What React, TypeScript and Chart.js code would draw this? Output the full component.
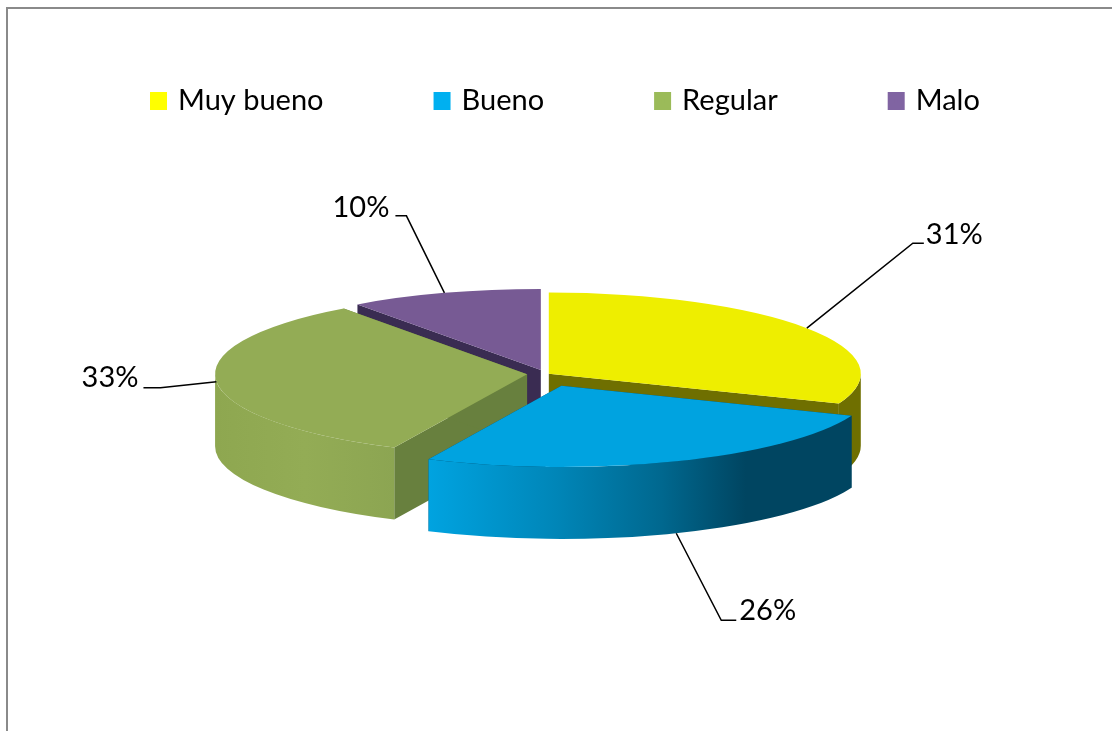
import React, { useEffect, useRef } from "react";
import { Chart, registerables } from "chart.js";

Chart.register(...registerables);

const categories = ["Muy bueno", "Bueno", "Regular", "Malo"];
const values = [31, 26, 33, 10];
const percentLabels = ["31%", "26%", "33%", "10%"];
const legendColors = ["#FFFF00", "#00B0F0", "#9BBB59", "#8064A2"];
const topColors = ["#EEEE00", "#00A3E0", "#93AC55", "#775A94"];
const faceColors = ["#6F6F00", "#004561", "#68803E", "#3A2C52"];
const explode = [7, 50, 16, 7];
const nudgeY = [1, 0, 0, -2];
const paintOrder = [0, 3, 2, 1];
const squash = 0.26;
const depth = 72;
const wallStops: [number, string][][] = [
  [[0, "#6F6F00"], [1, "#6F6F00"]],
  [[0, "#00A3E0"], [0.3, "#0086B8"], [0.55, "#00688F"], [0.75, "#004561"], [1, "#004561"]],
  [[0, "#8EA750"], [0.5, "#93AC55"], [1, "#8CA552"]],
  [[0, "#3A2C52"], [1, "#3A2C52"]],
];
// leader: elbow offset from the slice's rim point, tail length, text offset from the tail end
const elbowDx = [106, 45, -56, -38];
const elbowDy = [-85, 87, 6, -77];
const tailDx = [11, 15, -17, -11];
const textDx = [2, 3, -5, -6];
const textDy = [-8, -10, -10, -8];
const rimUsesDepth = [false, true, false, false];

const pie3d = {
  id: "pie3d",
  afterLayout(chart: any) {
    const legend = chart.legend;
    legend.left = 40;
    legend.right = chart.width;
    legend.top = -27;
  },
  beforeDatasetDraw(chart: any, args: any) {
    const ctx = chart.ctx;
    const arcs = args.meta.data;
    const geom = (arc: any, i: number) => {
      const mid = (arc.startAngle + arc.endAngle) / 2;
      return {
        X: arc.x + Math.cos(mid) * explode[i],
        Y: arc.y + Math.sin(mid) * explode[i] * squash + nudgeY[i],
        R: arc.outerRadius,
        mid,
      };
    };
    paintOrder.forEach((i) => {
      const arc = arcs[i];
      const { X, Y, R } = geom(arc, i);
      const k = squash;
      // radial cut faces
      [arc.startAngle, arc.endAngle].forEach((a: number) => {
        const ex = X + Math.cos(a) * R;
        const ey = Y + Math.sin(a) * R * k;
        ctx.beginPath();
        ctx.moveTo(X, Y);
        ctx.lineTo(ex, ey);
        ctx.lineTo(ex, ey + depth);
        ctx.lineTo(X, Y + depth);
        ctx.closePath();
        ctx.fillStyle = faceColors[i];
        ctx.fill();
      });
      // curved outer wall
      const a0 = Math.max(arc.startAngle, 0);
      const a1 = Math.min(arc.endAngle, Math.PI);
      if (a1 > a0) {
        const x0 = X + Math.cos(a1) * R;
        const x1 = X + Math.cos(a0) * R;
        const grad = ctx.createLinearGradient(x0, 0, x1, 0);
        wallStops[i].forEach(([p, c]) => grad.addColorStop(p, c));
        ctx.beginPath();
        ctx.ellipse(X, Y, R, R * k, 0, a0, a1);
        ctx.ellipse(X, Y + depth, R, R * k, 0, a1, a0, true);
        ctx.closePath();
        ctx.fillStyle = grad;
        ctx.fill();
      }
      // top surface: the library's own arc, flattened
      ctx.save();
      ctx.translate(X, Y);
      ctx.scale(1, k);
      ctx.translate(-arc.x, -arc.y);
      arc.draw(ctx);
      ctx.restore();
    });
    // leaders and percentages
    ctx.save();
    ctx.strokeStyle = "#000000";
    ctx.lineWidth = 1.5;
    ctx.fillStyle = "#000000";
    ctx.font = "29px Lato";
    ctx.textBaseline = "middle";
    arcs.forEach((arc: any, i: number) => {
      const { X, Y, R, mid } = geom(arc, i);
      const rx = X + Math.cos(mid) * R;
      const ry = Y + Math.sin(mid) * R * squash + (rimUsesDepth[i] ? depth : 0);
      const ex = rx + elbowDx[i];
      const ey = ry + elbowDy[i];
      const tx = ex + tailDx[i];
      ctx.beginPath();
      ctx.moveTo(rx, ry);
      ctx.lineTo(ex, ey);
      ctx.lineTo(tx, ey);
      ctx.stroke();
      ctx.textAlign = tailDx[i] > 0 ? "left" : "right";
      ctx.fillText(percentLabels[i], tx + textDx[i], ey + textDy[i]);
    });
    ctx.restore();
    return false;
  },
};

export default function App() {
  const ref = useRef<HTMLCanvasElement | null>(null);
  useEffect(() => {
    if (!ref.current) return;
    const chart = new Chart(ref.current, {
      type: "pie",
      data: {
        labels: categories,
        datasets: [
          {
            data: values,
            backgroundColor: topColors,
            borderWidth: 0,
            radius: 312,
            clip: false,
          } as any,
        ],
      },
      plugins: [pie3d],
      options: {
        responsive: false,
        animation: false,
        events: [],
        layout: { padding: { left: 0, right: 314, top: 0, bottom: 136 } },
        plugins: {
          title: { display: false },
          tooltip: { enabled: false },
          legend: {
            display: true,
            position: "top",
            align: "start",
            labels: {
              boxWidth: 10,
              boxHeight: 11,
              padding: 113.5,
              color: "#000000",
              font: { family: "Lato", size: 29 },
              generateLabels: () =>
                categories.map((text, i) => ({
                  text,
                  fillStyle: legendColors[i],
                  strokeStyle: legendColors[i],
                  lineWidth: 7,
                  index: i,
                  hidden: false,
                })),
            },
          },
        },
      } as any,
    });
    return () => chart.destroy();
  }, []);
  return (
    <div style={{ position: "fixed", left: 0, top: 0, width: 1112, height: 731, overflow: "hidden", background: "#fff" }}>
      <canvas ref={ref} width={1400} height={731} style={{ position: "absolute", left: 0, top: 0 }} />
      <div style={{ position: "absolute", left: 6, top: 7, width: 1200, height: 900, borderLeft: "2px solid #8a8a8a", borderTop: "2px solid #8a8a8a" }} />
    </div>
  );
}
